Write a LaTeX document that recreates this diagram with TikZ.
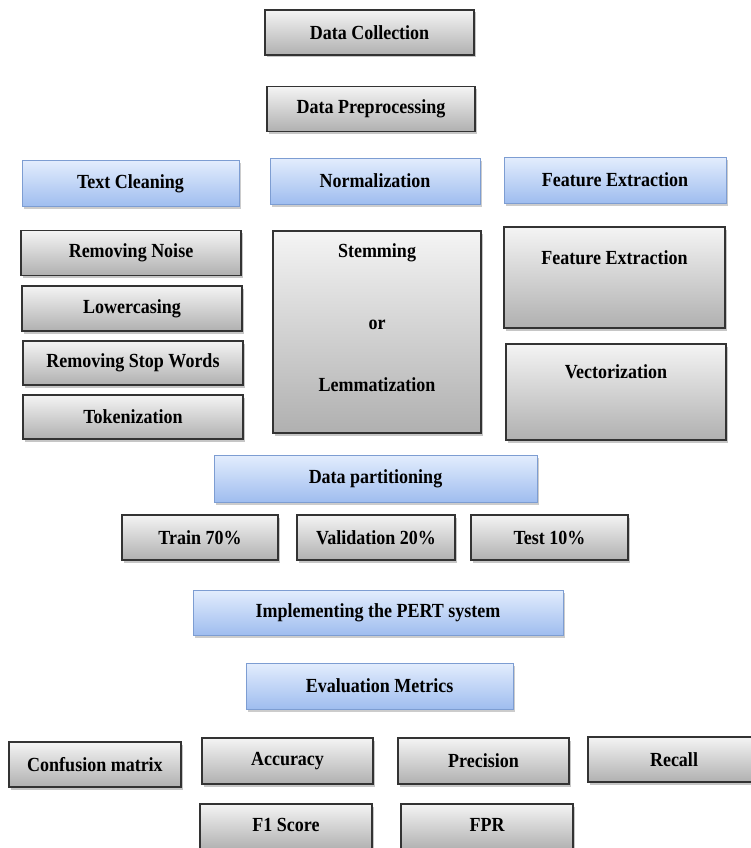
\documentclass[tikz,border=0pt]{standalone}
\usepackage{fontspec}
\setmainfont{Liberation Serif}[FakeStretch=0.9]
\usepackage{tikz}
\usetikzlibrary{shadows}
\usepackage{xcolor}
\definecolor{greytop}{HTML}{F4F4F4}
\definecolor{greybot}{HTML}{B0B0B0}
\definecolor{bluetop}{HTML}{E3EDFD}
\definecolor{bluebot}{HTML}{9FBDEF}
\definecolor{blueline}{HTML}{7D9DD2}

\begin{document}
\begin{tikzpicture}[x=1pt,y=-1pt,
greys/.style={rectangle,draw=black!80,line width=1.4pt,top color=greytop,bottom color=greybot,
  drop shadow={shadow xshift=1.5pt,shadow yshift=-2.5pt,opacity=0.45},
  minimum width=#1,minimum height=45,inner sep=0,font=\fontsize{20}{24}\selectfont\bfseries},
greys/.default=220,
blues/.style={rectangle,draw=blueline,line width=0.9pt,top color=bluetop,bottom color=bluebot,
  drop shadow={shadow xshift=1.5pt,shadow yshift=-2.5pt,opacity=0.4},
  minimum width=#1,minimum height=46,inner sep=0,font=\fontsize{20}{24}\selectfont\bfseries},
blues/.default=220,
words/.style={font=\fontsize{20}{24}\selectfont\bfseries,inner sep=0}]
\useasboundingbox (0,0) rectangle (750,848);

\node [greys=209] (top-0) at (369.5,32.5) {Data Collection};
\node [greys=208] (top-1) at (371,109) {Data Preprocessing};

\node [blues=217] (head-0) at (130.5,183.5) {Text Cleaning};
\node [blues=210] (head-1) at (375,181) {Normalization};
\node [blues=222] (head-2) at (615,180) {Feature Extraction};

\node [greys] (clean-0) at (131,253) {Removing Noise};
\node [greys] (clean-1) at (132,308.5) {Lowercasing};
\node [greys,minimum height=44] (clean-2) at (133,363) {Removing Stop Words};
\node [greys,minimum height=44] (clean-3) at (133,417) {Tokenization};

\node [greys=208,minimum height=202] (norm-0) at (377,332) {};
\node [words] at (377,253) {Stemming};
\node [words] at (377,325) {or};
\node [words] at (377,385) {Lemmatization};

\node [greys=221,minimum height=101] (feat-0) at (614.5,277.5) {};
\node [words] at (614.5,258) {Feature Extraction};
\node [greys=220,minimum height=96] (feat-1) at (616,392) {};
\node [words] at (616,372) {Vectorization};

\node [blues=323,minimum height=47] (part) at (375.5,478.5) {Data partitioning};
\node [greys=156] (part-0) at (200,537.5) {Train 70\%};
\node [greys=158] (part-1) at (376,537.5) {Validation 20\%};
\node [greys=157] (part-2) at (549.5,537.5) {Test 10\%};

\node [blues=370,minimum height=45] (impl) at (378,612.5) {Implementing the PERT system};
\node [blues=267] (eval) at (379.5,686) {Evaluation Metrics};

\node [greys=172] (eval-0) at (95,764.5) {Confusion matrix};
\node [greys=171,minimum height=46] (eval-1) at (287.5,761) {Accuracy};
\node [greys=171,minimum height=46] (eval-2) at (483.5,761) {Precision};
\node [greys=172] (eval-3) at (674,759.5) {Recall};
\node [greys=172,minimum height=46] (eval-4) at (286,827) {};
\node [words] at (286,825) {F1 Score};
\node [greys=172,minimum height=46] (eval-5) at (487,827) {};
\node [words] at (487,825) {FPR};
\end{tikzpicture}
\end{document}
